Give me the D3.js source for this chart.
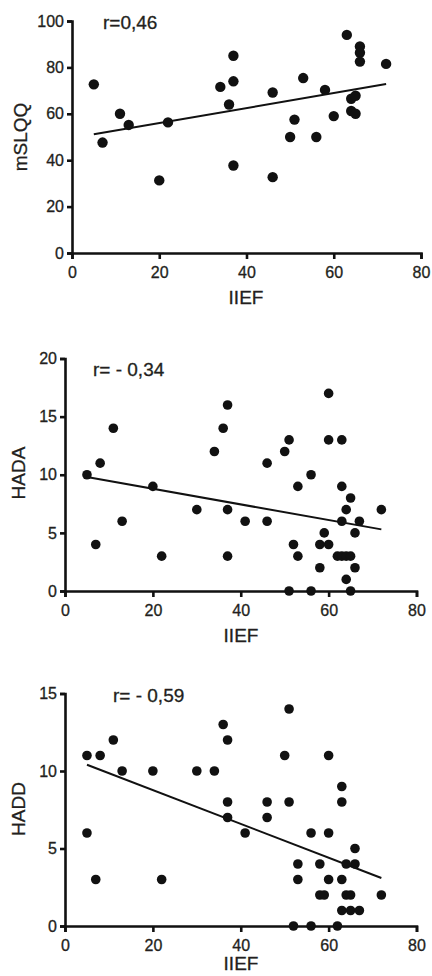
<!DOCTYPE html>
<html>
<head>
<meta charset="utf-8">
<script src="https://cdn.jsdelivr.net/npm/d3@7"></script>
<style>
  body { margin: 0; background: #fff; }
  svg { display: block; font-family: "Liberation Sans", Arial, sans-serif; }
  .axis path, .axis line { stroke: #111; stroke-width: 2.6; }
  .axis text { fill: #231f20; font-size: 16px; stroke: #231f20; stroke-width: 0.3; }
  .lbl { fill: #231f20; stroke: #231f20; stroke-width: 0.3; }
</style>
</head>
<body>
<svg width="432" height="976"></svg>
<script>
// values
const xTicks = [0, 20, 40, 60, 80];

// panel 1 : mSLQQ vs IIEF
const iief1 = [5, 7, 11, 13, 20, 22, 34, 36, 37, 37, 37, 46, 46, 50, 51, 53, 56, 58, 60, 63, 64, 64, 65, 65, 66, 66, 66, 72];
const mslqq = [72.7, 47.6, 60, 55.2, 31.3, 56.3, 71.6, 64, 74, 85, 37.7, 69.2, 32.7, 50, 57.5, 75.4, 50, 70.3, 59, 94, 66.5, 61.2, 67.8, 60, 89, 86.3, 82.5, 81.5];
const yTicks1 = [0, 20, 40, 60, 80, 100];
const fit1 = [51.2, 72.8];

// panel 2 : HADA vs IIEF
const iief2 = [5, 7, 8, 11, 13, 20, 22, 30, 34, 36, 37, 37, 37, 41, 46, 46, 50, 51, 51, 52, 53, 53, 56, 56, 58, 58, 59, 60, 60, 60, 62, 63, 63, 63, 63, 64, 64, 64, 65, 65, 65, 66, 66, 67, 72];
const hada = [10, 4, 11, 14, 6, 9, 3, 7, 12, 14, 16, 7, 3, 6, 11, 6, 12, 13, 0, 4, 3, 9, 10, 0, 2, 4, 5, 17, 13, 4, 3, 13, 9, 6, 3, 7, 3, 1, 8, 3, 0, 5, 2, 6, 7];
const yTicks2 = [0, 5, 10, 15, 20];
const fit2 = [9.8, 5.3];

// panel 3 : HADD vs IIEF
const iief3 = [5, 5, 7, 8, 11, 13, 20, 22, 30, 34, 36, 37, 37, 37, 41, 46, 46, 50, 51, 51, 52, 53, 53, 56, 56, 58, 58, 59, 60, 60, 60, 62, 63, 63, 63, 63, 64, 64, 65, 65, 66, 66, 67, 72];
const hadd = [11, 6, 3, 11, 12, 10, 10, 3, 10, 10, 13, 12, 8, 7, 6, 8, 7, 11, 14, 8, 0, 4, 3, 6, 0, 4, 2, 2, 11, 6, 3, 0, 9, 8, 3, 1, 4, 2, 2, 1, 5, 4, 1, 2];
const yTicks3 = [0, 5, 10, 15];
const fit3 = [10.4, 3.1];

const fitX = [5, 72];

const panels = [
  { xs: iief1, ys: mslqq, yTicks: yTicks1, yMax: 100, fit: fit1, yName: "mSLQQ", r: "r=0,46",
    x0: 72, x1: 421, y0: 253, y1: 21, rx: 103, ry: 22, tx: 20, ty: 137, bx: 246, by: 297, dot: 5.2 },
  { xs: iief2, ys: hada, yTicks: yTicks2, yMax: 20, fit: fit2, yName: "HADA", r: "r= - 0,34",
    x0: 65, x1: 416.5, y0: 591, y1: 358.5, rx: 93, ry: 369, tx: 18, ty: 473, bx: 241, by: 635, dot: 4.8 },
  { xs: iief3, ys: hadd, yTicks: yTicks3, yMax: 15, fit: fit3, yName: "HADD", r: "r= - 0,59",
    x0: 65, x1: 416.5, y0: 926, y1: 693.5, rx: 113, ry: 695, tx: 18, ty: 809, bx: 241, by: 963, dot: 4.8 }
];

const svg = d3.select("svg");

panels.forEach(p => {
  const x = d3.scaleLinear().domain([0, 80]).range([p.x0, p.x1]);
  const y = d3.scaleLinear().domain([0, p.yMax]).range([p.y0, p.y1]);
  const g = svg.append("g");

  g.append("g")
    .attr("class", "axis")
    .attr("transform", `translate(0,${p.y0})`)
    .call(d3.axisBottom(x).tickValues(xTicks).tickSize(6).tickPadding(8));

  g.append("g")
    .attr("class", "axis")
    .attr("transform", `translate(${p.x0},0)`)
    .call(d3.axisLeft(y).tickValues(p.yTicks).tickSize(5).tickPadding(3));

  // fitted line
  g.append("path")
    .datum(fitX.map((v, i) => [v, p.fit[i]]))
    .attr("fill", "none")
    .attr("stroke", "#111")
    .attr("stroke-width", 2)
    .attr("d", d3.line().x(d => x(d[0])).y(d => y(d[1])));

  g.selectAll("circle")
    .data(p.xs.map((v, i) => [v, p.ys[i]]))
    .enter()
    .append("circle")
    .attr("cx", d => x(d[0]))
    .attr("cy", d => y(d[1]))
    .attr("r", p.dot)
    .attr("fill", "#111");

  g.append("text")
    .attr("class", "lbl")
    .attr("x", p.rx).attr("y", p.ry)
    .attr("dy", "0.36em")
    .attr("font-size", 19)
    .text(p.r);

  g.append("text")
    .attr("class", "lbl")
    .attr("transform", `translate(${p.tx},${p.ty}) rotate(-90)`)
    .attr("text-anchor", "middle")
    .attr("dy", "0.36em")
    .attr("font-size", 19)
    .text(p.yName);

  g.append("text")
    .attr("class", "lbl")
    .attr("x", p.bx).attr("y", p.by)
    .attr("text-anchor", "middle")
    .attr("dy", "0.36em")
    .attr("font-size", 19)
    .text("IIEF");
});
</script>
</body>
</html>
